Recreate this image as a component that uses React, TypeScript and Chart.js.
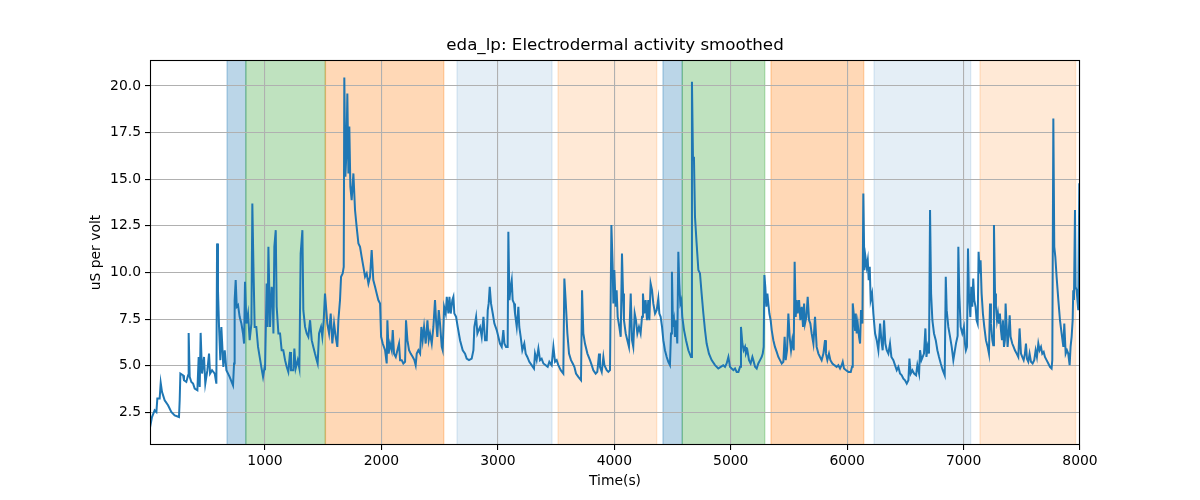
import React, { useEffect, useRef } from "react";
import { Chart, registerables } from "chart.js";

Chart.register(...registerables);

const chartTitle = "eda_lp: Electrodermal activity smoothed";
const xAxisLabel = "Time(s)";
const yAxisLabel = "uS per volt";

const xTicks = [1000, 2000, 3000, 4000, 5000, 6000, 7000, 8000];
const yTicks = [2.5, 5.0, 7.5, 10.0, 12.5, 15.0, 17.5, 20.0];

const timeSec = [
  12, 29, 52, 67, 75, 95, 104, 115, 138, 167, 195, 224, 261, 267, 273, 296, 304, 324, 339, 344,
  353, 367, 382, 396, 419, 430, 439, 447, 459, 476, 487, 505, 519, 528, 545, 568, 582, 588, 596, 605,
  616, 625, 642, 654, 668, 696, 725, 734, 739, 748, 757, 768, 782, 797, 811, 820, 828, 840, 854, 868,
  883, 891, 900, 911, 925, 940, 968, 983, 997,
  1000, 1014, 1022, 1029, 1043, 1057, 1065, 1072, 1080, 1092, 1100, 1115, 1129, 1143, 1157, 1172, 1186, 1200, 1215, 1223,
  1243, 1252, 1263, 1281, 1295, 1306, 1321, 1329, 1344, 1358, 1372, 1387, 1401, 1415, 1429, 1444, 1452, 1464, 1481, 1492,
  1504, 1515, 1524, 1535, 1550, 1564, 1578, 1593, 1607, 1621, 1630, 1644, 1653, 1667, 1676, 1681, 1690, 1699, 1707, 1716,
  1724, 1733, 1744, 1759, 1773, 1787, 1802, 1816, 1830, 1845, 1859, 1873, 1888, 1902, 1916, 1930, 1945, 1959, 1973, 1988,
  1997, 2011, 2031, 2045, 2051, 2062, 2074, 2088, 2097, 2108, 2123, 2137, 2151, 2160, 2174, 2188, 2203, 2211, 2223, 2237,
  2251, 2269, 2283, 2294, 2303, 2317, 2332, 2343, 2354, 2366, 2380, 2395, 2406, 2417, 2432, 2446, 2460, 2469, 2480, 2492,
  2503, 2518, 2526, 2538, 2552, 2561, 2575, 2584, 2595, 2609, 2618, 2626, 2641, 2655, 2675, 2698, 2718, 2732, 2752, 2775,
  2790, 2798, 2813, 2824, 2835, 2847, 2861, 2876, 2890, 2904, 2913, 2921, 2930, 2941, 2956, 2970,
  2990, 3004, 3018, 3033, 3047, 3056, 3070, 3084, 3090, 3099, 3110, 3119, 3127, 3139, 3147, 3162, 3176, 3184, 3196, 3210,
  3227, 3239, 3253, 3270, 3290, 3310, 3319, 3333, 3348, 3362, 3376, 3391, 3411, 3428, 3442, 3462, 3477, 3491, 3505, 3519,
  3540, 3562, 3571, 3582, 3597, 3611, 3628, 3643, 3657, 3671, 3691, 3714, 3723, 3734, 3748, 3769, 3791, 3806, 3820, 3840,
  3854, 3869, 3877, 3892, 3906, 3915, 3935, 3949, 3963, 3975, 3986, 3992, 4000, 4012, 4020, 4029, 4043, 4055, 4066, 4075,
  4083, 4098, 4112, 4126, 4141, 4152, 4163, 4175, 4186, 4198, 4212, 4226, 4238, 4246, 4258, 4269, 4281, 4292, 4301, 4312,
  4324, 4335, 4350, 4364, 4378, 4387, 4398, 4410, 4421, 4435, 4450, 4464, 4478, 4487, 4495, 4504, 4513, 4521, 4530, 4541,
  4550, 4558, 4567, 4576, 4584, 4599, 4616, 4636, 4659, 4667, 4676, 4684, 4693, 4707, 4722, 4736, 4750, 4765, 4779, 4793,
  4813, 4836, 4865, 4893, 4914, 4936, 4951,
  4965, 4980, 4994, 5008, 5023, 5037, 5051, 5066, 5080, 5088, 5100, 5111, 5123, 5131, 5143, 5157, 5171, 5186, 5194, 5209,
  5223, 5237, 5252, 5266, 5275, 5283, 5289, 5297, 5306, 5315, 5323, 5332, 5343, 5352, 5366, 5380, 5395, 5409, 5423, 5438,
  5452, 5463, 5472, 5484, 5495, 5506, 5518, 5529, 5541, 5549, 5558, 5567, 5575, 5587, 5598, 5610, 5621, 5630, 5638, 5650,
  5661, 5673, 5684, 5695, 5710, 5724, 5738, 5753, 5767, 5781, 5796, 5810, 5818, 5830, 5844, 5856, 5873, 5890, 5910, 5924,
  5939, 5953, 5962, 5973, 5991, 6011, 6031, 6042, 6048, 6059, 6068, 6074, 6082, 6091, 6102, 6111, 6119, 6131, 6139, 6148,
  6157, 6168, 6177, 6185, 6194, 6202, 6214, 6225, 6240, 6254, 6268, 6283, 6294, 6305, 6317, 6328, 6340, 6354, 6368, 6380,
  6397, 6411, 6426, 6440, 6454, 6469, 6483, 6497, 6512, 6526, 6535, 6546, 6560, 6575, 6592, 6603, 6618, 6626, 6638, 6649,
  6660, 6672, 6681, 6692, 6703, 6712, 6721, 6732, 6746, 6761, 6775, 6789, 6804, 6821, 6838, 6847, 6855, 6869, 6884, 6898,
  6912, 6921, 6935, 6949, 6955, 6963, 6975, 6989, 7003, 7012, 7020, 7029, 7038, 7046, 7058, 7066, 7075, 7083, 7092, 7103,
  7112, 7121, 7129, 7138, 7146, 7155, 7166, 7178, 7192, 7207, 7218, 7227, 7235, 7247, 7255, 7261, 7270, 7278, 7287, 7295,
  7304, 7312, 7321, 7330, 7338, 7347, 7355, 7361, 7370, 7378, 7387, 7396, 7404, 7418, 7430, 7441, 7456, 7470, 7481, 7493,
  7504, 7516, 7527, 7536, 7544, 7556, 7567, 7579, 7593, 7607, 7619, 7630, 7642, 7653, 7665, 7676, 7688, 7699, 7713, 7728,
  7742, 7756, 7762, 7771, 7779, 7788, 7799, 7814, 7828, 7842, 7857, 7865, 7877, 7888, 7899, 7911, 7919, 7928, 7937, 7942,
  7948, 7957, 7962, 7971, 7980, 7985, 7994, 7999,
];

const edaValues = [
  1.69, 2.25, 2.61, 2.52, 3.24, 3.24, 4.08, 3.6, 3.15, 2.88, 2.52, 2.34, 2.25, 3.15, 4.58, 4.49, 4.22, 4.13, 4.49, 6.76,
  4.4, 4.13, 4.04, 3.77, 3.68, 5.47, 3.86, 6.76, 4.58, 5.47, 4.04, 4.76, 5.65, 4.58, 4.76, 4.58, 4.04, 11.56, 9.05, 7.08,
  5.3, 7.08, 4.94, 5.83, 4.76, 4.4, 3.95, 5.12, 8.52, 9.59, 8.16, 8.25, 7.62, 7.26, 6.73, 6.19, 9.5, 7.26, 7.8, 6.37,
  7.26, 13.7, 10.48, 7.08, 7.08, 6.01, 4.94, 4.4, 4.94,
  4.76, 9.41, 7.08, 11.38, 7.08, 9.23, 8.87, 6.73, 11.38, 12.27, 8.16, 6.73, 6.73, 5.83, 5.83, 5.3, 4.94, 4.67, 5.74, 4.76,
  4.76, 5.92, 4.85, 5.3, 4.85, 11.02, 12.27, 7.98, 7.08, 6.73, 6.55, 7.44, 6.37, 6.01, 5.65, 5.3, 5.12, 6.73, 7.08, 6.55,
  7.44, 8.87, 8.16, 7.26, 6.73, 7.8, 6.19, 7.26, 6.55, 6.01, 7.44, 8.52, 9.77, 9.95, 10.3, 20.45, 15.13, 16.39, 19.6, 15.31,
  17.82, 14.6, 13.88, 15.31, 13.35, 12.45, 11.56, 11.38, 10.84, 10.3, 9.77, 9.95, 9.41, 9.77, 11.2, 9.59, 9.23, 8.87, 8.52, 8.34,
  6.55, 6.19, 5.83, 5.12, 7.44, 5.65, 6.19, 5.83, 6.91, 5.65, 5.47, 5.83, 6.19, 5.3, 5.3, 5.12, 5.21, 7.44, 6.37, 5.83,
  5.65, 5.47, 5.3, 5.03, 5.65, 5.83, 5.65, 7.08, 6.37, 7.08, 6.19, 7.44, 6.37, 6.73, 6.19, 7.08, 8.52, 7.44, 6.55, 7.98,
  7.26, 6.01, 5.83, 8.16, 7.8, 8.69, 7.8, 8.69, 7.8, 8.52, 8.69, 7.8, 7.62, 7.08, 6.37, 5.83, 5.65, 5.38, 5.3, 5.38,
  5.83, 7.08, 7.62, 6.73, 6.91, 7.08, 6.55, 7.62, 6.37, 6.37, 7.98, 8.34, 9.23, 8.34, 7.8, 7.26,
  6.91, 6.55, 6.19, 6.01, 6.91, 6.19, 6.01, 6.01, 12.18, 8.52, 9.23, 9.59, 8.52, 8.34, 7.8, 7.08, 8.16, 7.08, 6.55, 5.83,
  6.19, 5.65, 5.47, 5.21, 5.03, 4.85, 5.65, 5.3, 5.92, 5.3, 5.38, 5.12, 5.03, 4.94, 5.21, 5.03, 6.01, 5.21, 5.3, 5.03,
  4.76, 4.58, 9.68, 8.52, 6.73, 5.65, 5.3, 5.12, 4.94, 4.58, 4.4, 4.22, 9.05, 6.73, 6.19, 5.65, 5.3, 5.03, 4.76, 4.58,
  4.67, 5.65, 4.94, 4.67, 5.47, 5.03, 4.76, 4.67, 4.76, 12.54, 10.3, 8.34, 10.13, 8.16, 9.05, 7.62, 7.08, 6.55, 11.02, 8.87,
  7.44, 6.73, 6.37, 6.01, 8.87, 6.37, 6.01, 7.8, 7.44, 6.73, 7.08, 6.73, 7.62, 8.87, 7.8, 8.52, 7.44, 8.52, 7.44, 9.41,
  9.05, 8.34, 7.8, 7.98, 8.6, 7.8, 7.62, 7.08, 6.37, 5.83, 5.47, 5.21, 5.03, 6.73, 10.04, 7.08, 7.44, 6.55, 7.44, 6.19,
  11.11, 9.41, 8.34, 8.52, 7.62, 6.91, 6.37, 5.83, 5.47, 20.23, 16.03, 16.21, 12.99, 11.56, 10.13, 9.95, 8.87, 7.8, 6.91, 6.19,
  5.65, 5.3, 5.03, 4.85, 4.94, 5.03, 4.94,
  5.12, 5.47, 4.94, 4.85, 4.76, 4.85, 4.67, 4.67, 4.94, 7.08, 6.19, 5.83, 6.01, 5.65, 5.83, 5.3, 5.12, 5.47, 5.3, 4.94,
  4.85, 5.12, 5.3, 5.47, 5.65, 6.01, 9.86, 9.23, 8.16, 8.87, 8.34, 7.8, 7.44, 6.91, 6.37, 6.01, 5.74, 5.47, 5.3, 5.12,
  5.21, 6.55, 5.3, 5.83, 7.8, 6.55, 5.83, 6.37, 5.83, 10.57, 7.62, 8.52, 7.8, 8.52, 7.44, 8.16, 7.08, 8.34, 7.26, 7.62,
  8.69, 7.44, 7.26, 6.73, 6.19, 7.62, 6.01, 5.65, 5.47, 5.3, 5.65, 6.37, 5.65, 5.3, 5.65, 5.3, 5.12, 5.03, 4.94, 5.03,
  4.85, 5.03, 5.21, 4.85, 4.76, 4.67, 4.67, 4.94, 8.34, 7.62, 6.91, 7.8, 6.73, 7.26, 6.55, 6.19, 7.98, 7.26, 14.24, 10.13,
  10.84, 10.3, 10.66, 9.59, 10.3, 8.52, 8.87, 7.8, 6.73, 6.37, 5.83, 7.26, 6.37, 5.83, 7.44, 6.19, 5.83, 5.65, 6.19, 5.47,
  5.3, 5.03, 4.76, 4.94, 4.58, 4.49, 4.31, 4.22, 4.04, 4.22, 5.38, 4.58, 4.76, 4.58, 4.49, 5.03, 4.58, 5.83, 5.3, 5.47,
  5.65, 7.0, 5.47, 6.01, 5.65, 13.35, 8.87, 7.44, 6.73, 6.37, 5.83, 5.47, 5.12, 4.76, 4.49, 9.77, 7.98, 7.08, 6.55, 6.01,
  5.3, 5.65, 6.2, 6.6, 11.38, 8.87, 7.08, 6.73, 7.08, 6.19, 5.83, 6.01, 11.29, 8.87, 7.62, 9.23, 8.16, 9.68, 8.52, 8.16,
  7.44, 7.26, 11.11, 9.95, 10.66, 8.87, 7.8, 7.08, 6.37, 6.01, 5.65, 8.34, 7.26, 6.37, 6.1, 12.54, 8.87, 8.16, 7.44, 7.8,
  7.26, 7.8, 6.91, 6.37, 7.44, 6.01, 6.37, 8.34, 7.08, 6.01, 6.73, 7.71, 6.55, 6.19, 6.01, 5.83, 5.65, 5.47, 7.0, 5.65,
  5.47, 5.3, 5.65, 6.19, 5.38, 5.21, 5.65, 5.21, 5.12, 5.3, 5.83, 5.47, 6.19, 5.83, 6.01, 5.65, 5.74, 5.47, 5.3, 5.12,
  4.94, 4.85, 5.3, 18.26, 11.38, 10.84, 9.77, 8.52, 7.44, 6.73, 6.01, 7.26, 5.65, 5.83, 5.65, 5.03, 6.01, 6.55, 7.44, 9.05,
  8.52, 13.35, 9.23, 9.05, 8.34, 7.98, 14.78, 14.6,
];

const spanStart = [674, 835, 1518, 2649, 3517, 4418, 4584, 5346, 6231, 7141];
const spanEnd = [835, 1518, 2535, 3465, 4364, 4584, 5292, 6142, 7061, 7962];
const spanColor = [
  "rgba(31,119,180,0.3)",
  "rgba(44,160,44,0.3)",
  "rgba(255,127,14,0.3)",
  "rgba(31,119,180,0.12)",
  "rgba(255,127,14,0.17)",
  "rgba(31,119,180,0.3)",
  "rgba(44,160,44,0.3)",
  "rgba(255,127,14,0.3)",
  "rgba(31,119,180,0.12)",
  "rgba(255,127,14,0.17)",
];

const FONT = "'DejaVu Sans', 'Liberation Sans', sans-serif";

const spanPlugin = {
  id: "spans",
  beforeDraw(chart: any) {
    const { ctx, chartArea, scales } = chart;
    const x = scales.x;
    ctx.save();
    ctx.beginPath();
    ctx.rect(chartArea.left, chartArea.top, chartArea.right - chartArea.left, chartArea.bottom - chartArea.top);
    ctx.clip();
    for (let i = 0; i < spanStart.length; i++) {
      const x0 = x.getPixelForValue(spanStart[i]);
      const x1 = x.getPixelForValue(spanEnd[i]);
      ctx.fillStyle = spanColor[i];
      ctx.fillRect(x0, chartArea.top, x1 - x0, chartArea.bottom - chartArea.top);
      ctx.strokeStyle = spanColor[i];
      ctx.lineWidth = 1.4;
      ctx.beginPath();
      ctx.moveTo(x0, chartArea.top);
      ctx.lineTo(x0, chartArea.bottom);
      ctx.moveTo(x1, chartArea.top);
      ctx.lineTo(x1, chartArea.bottom);
      ctx.stroke();
    }
    ctx.restore();
  },
};

const framePlugin = {
  id: "frame",
  afterDatasetsDraw(chart: any) {
    const { ctx, chartArea } = chart;
    ctx.save();
    ctx.strokeStyle = "#000";
    ctx.lineWidth = 1.1;
    ctx.strokeRect(
      Math.round(chartArea.left) + 0.5,
      Math.round(chartArea.top) + 0.5,
      Math.round(chartArea.right - chartArea.left) - 1,
      Math.round(chartArea.bottom - chartArea.top) - 1
    );
    ctx.restore();
  },
};

export default function App() {
  const canvasRef = useRef<HTMLCanvasElement | null>(null);

  useEffect(() => {
    document.body.style.margin = "0";
    const canvas = canvasRef.current;
    if (!canvas) return;
    const points = timeSec.map((t, i) => ({ x: t, y: edaValues[i] }));
    const chart = new Chart(canvas, {
      type: "line",
      data: {
        datasets: [
          {
            data: points,
            borderColor: "#1f77b4",
            borderWidth: 2,
            pointRadius: 0,
            tension: 0,
            fill: false,
          },
        ],
      },
      options: {
        animation: false,
        responsive: false,
        devicePixelRatio: 1,
        layout: { padding: { left: 0, right: 120, top: 0, bottom: 0 } },
        plugins: {
          legend: { display: false },
          tooltip: { enabled: false },
          title: {
            display: true,
            text: chartTitle,
            fullSize: false,
            color: "#000",
            font: { family: FONT, size: 16.7, weight: "normal" },
            padding: { top: 36, bottom: 4 },
          },
        },
        scales: {
          x: {
            type: "linear",
            min: 12,
            max: 8000,
            afterBuildTicks: (scale: any) => {
              scale.ticks = xTicks.map((v) => ({ value: v }));
            },
            afterFit: (scale: any) => {
              scale.height = 55;
            },
            ticks: {
              color: "#000",
              font: { family: FONT, size: 13.9 },
              maxRotation: 0,
              autoSkip: false,
              padding: 3,
              callback: (v: any) => String(v),
            },
            grid: { color: "#b0b0b0", lineWidth: 1.1, tickColor: "#000", tickLength: 5 },
            border: { display: false },
            title: {
              display: true,
              text: xAxisLabel,
              color: "#000",
              font: { family: FONT, size: 13.9 },
              padding: { top: 0, bottom: 10.5 },
            },
          },
          y: {
            type: "linear",
            min: 0.75,
            max: 21.39,
            afterBuildTicks: (scale: any) => {
              scale.ticks = yTicks.map((v) => ({ value: v }));
            },
            afterFit: (scale: any) => {
              scale.width = 150;
            },
            ticks: {
              color: "#000",
              font: { family: FONT, size: 13.9 },
              padding: 4,
              callback: (v: any) => Number(v).toFixed(1),
            },
            grid: { color: "#b0b0b0", lineWidth: 1.1, tickColor: "#000", tickLength: 5 },
            border: { display: false },
            title: {
              display: true,
              text: yAxisLabel,
              color: "#000",
              font: { family: FONT, size: 13.9 },
              padding: { top: 88, bottom: 0 },
            },
          },
        },
      },
      plugins: [spanPlugin, framePlugin],
    });
    return () => chart.destroy();
  }, []);

  return (
    <div style={{ position: "absolute", left: 0, top: 0, width: 1200, height: 500 }}>
      <canvas ref={canvasRef} width={1200} height={500} style={{ width: 1200, height: 500 }} />
    </div>
  );
}
